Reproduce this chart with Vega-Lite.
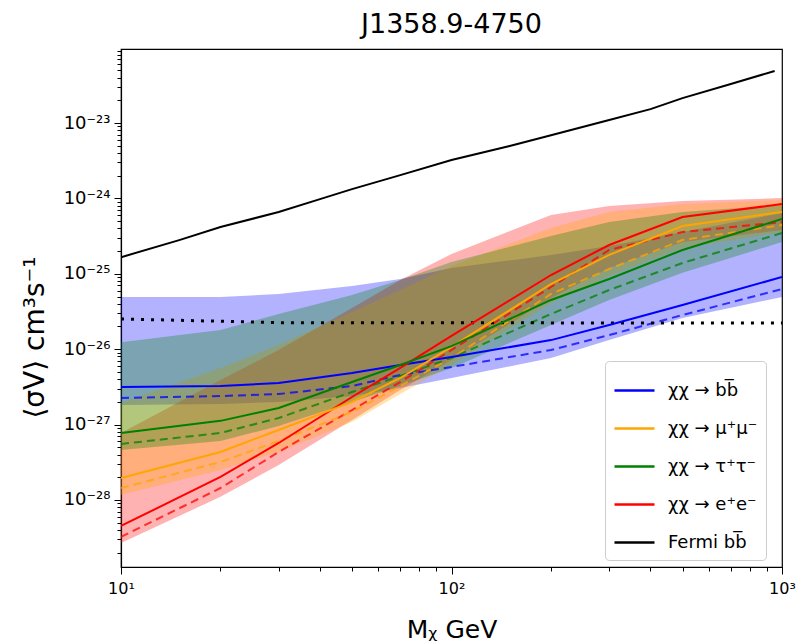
{
  "$schema": "https://vega.github.io/schema/vega-lite/v6.json",
  "width": 661,
  "height": 518,
  "autosize": {"type": "none"},
  "padding": {"left": 121, "top": 49, "right": 15, "bottom": 76},
  "background": "white",
  "config": {"view": {"stroke": "black", "strokeWidth": 1.2}, "font": "DejaVu Sans"},
  "title": {"text": "J1358.9-4750", "fontSize": 27, "font": "DejaVu Sans", "fontWeight": "normal", "baseline": "alphabetic", "frame": "group", "offset": 14, "dy": 32, "anchor": "middle", "color": "black"},
  "datasets": {
    "ch": [
      {"label": "χχ → bb̅", "m": 10, "lo": 1.82e-27, "hi": 4.92e-26, "med": 3.15e-27, "exp": 2.25e-27},
      {"label": "χχ → bb̅", "m": 20, "lo": 1.88e-27, "hi": 4.92e-26, "med": 3.25e-27, "exp": 2.39e-27},
      {"label": "χχ → bb̅", "m": 30, "lo": 2.00e-27, "hi": 5.40e-26, "med": 3.56e-27, "exp": 2.54e-27},
      {"label": "χχ → bb̅", "m": 50, "lo": 2.39e-27, "hi": 6.89e-26, "med": 4.83e-27, "exp": 3.25e-27},
      {"label": "χχ → bb̅", "m": 70, "lo": 3.05e-27, "hi": 8.53e-26, "med": 6.17e-27, "exp": 4.55e-27},
      {"label": "χχ → bb̅", "m": 100, "lo": 4.15e-27, "hi": 1.19e-25, "med": 7.89e-27, "exp": 5.81e-27},
      {"label": "χχ → bb̅", "m": 200, "lo": 7.64e-27, "hi": 1.78e-25, "med": 1.32e-26, "exp": 9.75e-27},
      {"label": "χχ → bb̅", "m": 300, "lo": 1.32e-26, "hi": 2.34e-25, "med": 2.09e-26, "exp": 1.54e-26},
      {"label": "χχ → bb̅", "m": 500, "lo": 2.59e-26, "hi": 3.58e-25, "med": 3.85e-26, "exp": 2.84e-26},
      {"label": "χχ → bb̅", "m": 1000, "lo": 4.92e-26, "hi": 6.40e-25, "med": 9.08e-26, "exp": 6.28e-26},
      {"label": "χχ → e⁺e⁻", "m": 10, "lo": 2.69e-29, "hi": 7.74e-28, "med": 4.52e-29, "exp": 3.23e-29},
      {"label": "χχ → e⁺e⁻", "m": 20, "lo": 1.10e-28, "hi": 3.91e-27, "med": 2.02e-28, "exp": 1.44e-28},
      {"label": "χχ → e⁺e⁻", "m": 30, "lo": 2.91e-28, "hi": 9.75e-27, "med": 5.70e-28, "exp": 4.33e-28},
      {"label": "χχ → e⁺e⁻", "m": 50, "lo": 1.15e-27, "hi": 3.52e-26, "med": 2.32e-27, "exp": 1.56e-27},
      {"label": "χχ → e⁺e⁻", "m": 70, "lo": 2.88e-27, "hi": 8.28e-26, "med": 5.64e-27, "exp": 3.67e-27},
      {"label": "χχ → e⁺e⁻", "m": 100, "lo": 7.19e-27, "hi": 1.83e-25, "med": 1.50e-26, "exp": 9.75e-27},
      {"label": "χχ → e⁺e⁻", "m": 200, "lo": 4.78e-26, "hi": 6.03e-25, "med": 9.64e-26, "exp": 6.68e-26},
      {"label": "χχ → e⁺e⁻", "m": 300, "lo": 1.19e-25, "hi": 7.93e-25, "med": 2.41e-25, "exp": 2.07e-25},
      {"label": "χχ → e⁺e⁻", "m": 500, "lo": 2.64e-25, "hi": 9.24e-25, "med": 5.66e-25, "exp": 3.58e-25},
      {"label": "χχ → e⁺e⁻", "m": 1000, "lo": 3.81e-25, "hi": 1.01e-24, "med": 8.43e-25, "exp": 4.86e-25},
      {"label": "χχ → μ⁺μ⁻", "m": 10, "lo": 1.16e-28, "hi": 1.93e-27, "med": 1.96e-28, "exp": 1.44e-28},
      {"label": "χχ → μ⁺μ⁻", "m": 20, "lo": 2.50e-28, "hi": 5.64e-27, "med": 4.33e-28, "exp": 3.19e-28},
      {"label": "χχ → μ⁺μ⁻", "m": 30, "lo": 4.33e-28, "hi": 1.14e-26, "med": 8.48e-28, "exp": 6.05e-28},
      {"label": "χχ → μ⁺μ⁻", "m": 50, "lo": 1.08e-27, "hi": 3.11e-26, "med": 2.00e-27, "exp": 1.47e-27},
      {"label": "χχ → μ⁺μ⁻", "m": 70, "lo": 2.54e-27, "hi": 6.10e-26, "med": 4.15e-27, "exp": 3.25e-27},
      {"label": "χχ → μ⁺μ⁻", "m": 100, "lo": 6.17e-27, "hi": 1.27e-25, "med": 1.07e-26, "exp": 7.64e-27},
      {"label": "χχ → μ⁺μ⁻", "m": 200, "lo": 4.10e-26, "hi": 4.05e-25, "med": 7.32e-26, "exp": 5.40e-26},
      {"label": "χχ → μ⁺μ⁻", "m": 300, "lo": 9.35e-26, "hi": 6.61e-25, "med": 1.78e-25, "exp": 1.16e-25},
      {"label": "χχ → μ⁺μ⁻", "m": 500, "lo": 2.20e-25, "hi": 8.43e-25, "med": 4.31e-25, "exp": 2.81e-25},
      {"label": "χχ → μ⁺μ⁻", "m": 1000, "lo": 3.58e-25, "hi": 9.53e-25, "med": 6.61e-25, "exp": 4.44e-25},
      {"label": "χχ → τ⁺τ⁻", "m": 10, "lo": 4.60e-28, "hi": 1.24e-26, "med": 7.74e-28, "exp": 5.53e-28},
      {"label": "χχ → τ⁺τ⁻", "m": 20, "lo": 6.05e-28, "hi": 1.80e-26, "med": 1.12e-27, "exp": 7.74e-28},
      {"label": "χχ → τ⁺τ⁻", "m": 30, "lo": 9.57e-28, "hi": 2.93e-26, "med": 1.66e-27, "exp": 1.22e-27},
      {"label": "χχ → τ⁺τ⁻", "m": 50, "lo": 2.00e-27, "hi": 5.24e-26, "med": 3.67e-27, "exp": 2.71e-27},
      {"label": "χχ → τ⁺τ⁻", "m": 70, "lo": 3.25e-27, "hi": 8.28e-26, "med": 6.17e-27, "exp": 4.41e-27},
      {"label": "χχ → τ⁺τ⁻", "m": 100, "lo": 5.64e-27, "hi": 1.43e-25, "med": 1.10e-26, "exp": 7.64e-27},
      {"label": "χχ → τ⁺τ⁻", "m": 200, "lo": 2.09e-26, "hi": 3.17e-25, "med": 4.50e-26, "exp": 2.93e-26},
      {"label": "χχ → τ⁺τ⁻", "m": 300, "lo": 4.50e-26, "hi": 4.86e-25, "med": 8.53e-26, "exp": 6.10e-26},
      {"label": "χχ → τ⁺τ⁻", "m": 500, "lo": 1.03e-25, "hi": 6.61e-25, "med": 2.07e-25, "exp": 1.39e-25},
      {"label": "χχ → τ⁺τ⁻", "m": 1000, "lo": 2.64e-25, "hi": 8.17e-25, "med": 5.33e-25, "exp": 3.48e-25}
    ],
    "fermi": [
      {"label": "Fermi bb̅", "m": 10, "v": 1.66e-25},
      {"label": "Fermi bb̅", "m": 15, "v": 2.8e-25},
      {"label": "Fermi bb̅", "m": 20, "v": 4.18e-25},
      {"label": "Fermi bb̅", "m": 30, "v": 6.6e-25},
      {"label": "Fermi bb̅", "m": 40, "v": 9.8e-25},
      {"label": "Fermi bb̅", "m": 50, "v": 1.33e-24},
      {"label": "Fermi bb̅", "m": 70, "v": 2.04e-24},
      {"label": "Fermi bb̅", "m": 100, "v": 3.23e-24},
      {"label": "Fermi bb̅", "m": 150, "v": 4.95e-24},
      {"label": "Fermi bb̅", "m": 200, "v": 6.9e-24},
      {"label": "Fermi bb̅", "m": 300, "v": 1.1e-23},
      {"label": "Fermi bb̅", "m": 400, "v": 1.53e-23},
      {"label": "Fermi bb̅", "m": 500, "v": 2.14e-23},
      {"label": "Fermi bb̅", "m": 700, "v": 3.3e-23},
      {"label": "Fermi bb̅", "m": 950, "v": 4.9e-23}
    ],
    "thermal": [
      {"m": 10, "v": 2.52e-26},
      {"m": 30, "v": 2.25e-26},
      {"m": 1000, "v": 2.22e-26}
    ]
  },
  "encoding": {
    "x": {
      "field": "m",
      "type": "quantitative",
      "scale": {"type": "log", "domain": [10, 1000], "nice": false},
      "axis": {
        "title": "Mᵪ GeV",
        "values": [10, 20, 30, 40, 50, 60, 70, 80, 90, 100, 200, 300, 400, 500, 600, 700, 800, 900, 1000],
        "labelExpr": "datum.value == 10 ? '10¹' : datum.value == 100 ? '10²' : datum.value == 1000 ? '10³' : ''",
        "tickSize": {"condition": {"test": "datum.value == 10 || datum.value == 100 || datum.value == 1000", "value": 7}, "value": 4},
        "tickColor": "black",
        "tickWidth": 1,
        "domainColor": "black",
        "domainWidth": 1.2,
        "labelColor": "black",
        "labelFont": "DejaVu Sans",
        "labelFontSize": 16,
        "labelPadding": 6,
        "labelFlush": false,
        "labelOverlap": false,
        "grid": false,
        "titleFont": "DejaVu Sans",
        "titleFontSize": 25,
        "titleFontWeight": "normal",
        "titleColor": "black",
        "titleY": 70,
        "titleBaseline": "alphabetic"
      }
    }
  },
  "layer": [
    {
      "data": {"name": "ch"},
      "mark": {"type": "area", "opacity": 0.3, "clip": true},
      "encoding": {
        "y": {
          "field": "lo",
          "type": "quantitative",
          "title": "⟨σV⟩   cm³s⁻¹",
          "scale": {"type": "log", "domain": [1.29e-29, 9.6e-23], "nice": false},
          "axis": {
            "title": "⟨σV⟩   cm³s⁻¹",
            "values": [2e-29, 3e-29, 4e-29, 5e-29, 6e-29, 7e-29, 8e-29, 9e-29,
              1e-28, 2e-28, 3e-28, 4e-28, 5e-28, 6e-28, 7e-28, 8e-28, 9e-28,
              1e-27, 2e-27, 3e-27, 4e-27, 5e-27, 6e-27, 7e-27, 8e-27, 9e-27,
              1e-26, 2e-26, 3e-26, 4e-26, 5e-26, 6e-26, 7e-26, 8e-26, 9e-26,
              1e-25, 2e-25, 3e-25, 4e-25, 5e-25, 6e-25, 7e-25, 8e-25, 9e-25,
              1e-24, 2e-24, 3e-24, 4e-24, 5e-24, 6e-24, 7e-24, 8e-24, 9e-24,
              1e-23, 2e-23, 3e-23, 4e-23, 5e-23, 6e-23, 7e-23, 8e-23, 9e-23],
            "labelExpr": "abs(log(datum.value)/LN10 - round(log(datum.value)/LN10)) > 0.001 ? '' : round(log(datum.value)/LN10) == -23 ? '10⁻²³' : round(log(datum.value)/LN10) == -24 ? '10⁻²⁴' : round(log(datum.value)/LN10) == -25 ? '10⁻²⁵' : round(log(datum.value)/LN10) == -26 ? '10⁻²⁶' : round(log(datum.value)/LN10) == -27 ? '10⁻²⁷' : round(log(datum.value)/LN10) == -28 ? '10⁻²⁸' : ''",
            "tickSize": {"condition": {"test": "abs(log(datum.value)/LN10 - round(log(datum.value)/LN10)) < 0.001", "value": 7}, "value": 4},
            "tickColor": "black",
            "tickWidth": 1,
            "domainColor": "black",
            "domainWidth": 1.2,
            "labelColor": "black",
            "labelFont": "DejaVu Sans",
            "labelFontSize": 18,
            "labelPadding": 4,
            "labelOverlap": false,
            "labelFlush": false,
            "grid": false,
            "titleFont": "DejaVu Sans",
            "titleFontSize": 28,
            "titleFontWeight": "normal",
            "titleColor": "black",
            "titleX": -86,
            "titleY": 288,
            "titleAngle": -90,
            "titleAlign": "center",
            "titleBaseline": "middle"
          }
        },
        "y2": {"field": "hi"},
        "fill": {
          "field": "label",
          "type": "nominal",
          "scale": {"domain": ["χχ → bb̅", "χχ → e⁺e⁻", "χχ → μ⁺μ⁻", "χχ → τ⁺τ⁻"], "range": ["blue", "red", "orange", "green"]},
          "legend": null
        }
      }
    },
    {
      "data": {"name": "ch"},
      "mark": {"type": "line", "strokeWidth": 2, "strokeDash": [8, 5], "opacity": 0.75, "clip": true},
      "encoding": {
        "y": {"field": "exp", "type": "quantitative", "title": "⟨σV⟩   cm³s⁻¹", "scale": {"type": "log", "domain": [1.29e-29, 9.6e-23], "nice": false}},
        "stroke": {
          "field": "label",
          "type": "nominal",
          "scale": {"domain": ["χχ → bb̅", "χχ → e⁺e⁻", "χχ → μ⁺μ⁻", "χχ → τ⁺τ⁻"], "range": ["blue", "red", "orange", "green"]},
          "legend": null
        }
      }
    },
    {
      "data": {"name": "thermal"},
      "mark": {"type": "line", "color": "black", "strokeWidth": 3, "strokeDash": [3, 7], "strokeCap": "butt", "clip": true},
      "encoding": {
        "y": {"field": "v", "type": "quantitative", "title": "⟨σV⟩   cm³s⁻¹", "scale": {"type": "log", "domain": [1.29e-29, 9.6e-23], "nice": false}}
      }
    },
    {
      "data": {"name": "ch"},
      "mark": {"type": "line", "strokeWidth": 2, "clip": true},
      "encoding": {
        "y": {"field": "med", "type": "quantitative", "title": "⟨σV⟩   cm³s⁻¹", "scale": {"type": "log", "domain": [1.29e-29, 9.6e-23], "nice": false}},
        "color": {
          "field": "label",
          "type": "nominal",
          "scale": {"domain": ["χχ → bb̅", "χχ → μ⁺μ⁻", "χχ → τ⁺τ⁻", "χχ → e⁺e⁻", "Fermi bb̅"], "range": ["blue", "orange", "green", "red", "black"]},
          "legend": {
            "title": null,
            "orient": "none",
            "legendX": 484,
            "legendY": 312,
            "symbolType": "stroke",
            "symbolSize": 1600,
            "symbolStrokeWidth": 2.5,
            "labelFont": "DejaVu Sans",
            "labelFontSize": 18,
            "labelColor": "black",
            "labelLimit": 250,
            "labelOffset": 12,
            "padding": 8,
            "rowPadding": 7,
            "strokeColor": "#cccccc",
            "fillColor": "white",
            "cornerRadius": 4
          }
        }
      }
    },
    {
      "data": {"name": "fermi"},
      "mark": {"type": "line", "strokeWidth": 2, "clip": true},
      "encoding": {
        "y": {"field": "v", "type": "quantitative", "title": "⟨σV⟩   cm³s⁻¹", "scale": {"type": "log", "domain": [1.29e-29, 9.6e-23], "nice": false}},
        "color": {
          "field": "label",
          "type": "nominal",
          "scale": {"domain": ["χχ → bb̅", "χχ → μ⁺μ⁻", "χχ → τ⁺τ⁻", "χχ → e⁺e⁻", "Fermi bb̅"], "range": ["blue", "orange", "green", "red", "black"]}
        }
      }
    }
  ]
}
